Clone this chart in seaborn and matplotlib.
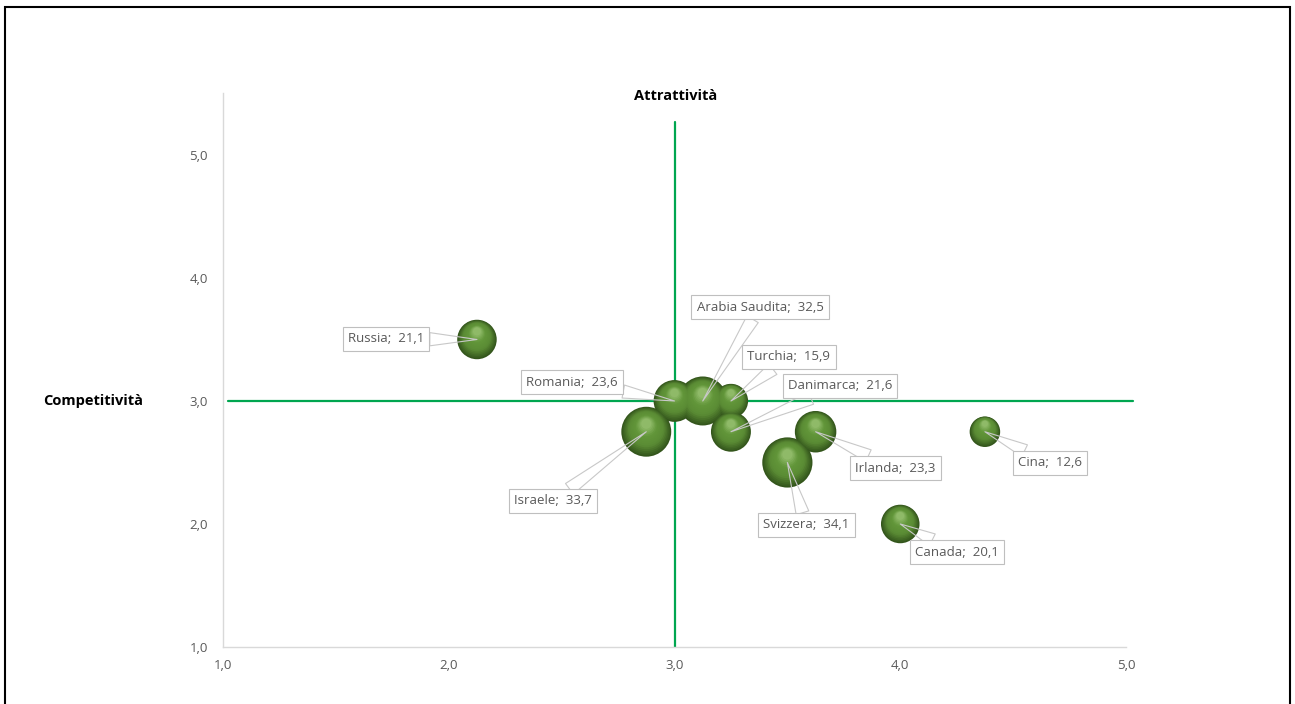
import numpy as np
import pandas as pd
import matplotlib
matplotlib.use("Agg")
import matplotlib.pyplot as plt
import matplotlib.transforms as mtransforms
from matplotlib.patches import Rectangle
from matplotlib.colors import to_rgb
from matplotlib.ticker import FuncFormatter
import seaborn as sns

# ---- data ----
countries = ["Russia", "Romania", "Arabia Saudita", "Turchia", "Danimarca",
             "Israele", "Svizzera", "Irlanda", "Cina", "Canada"]
attrattivita = [2.125, 3.0, 3.125, 3.25, 3.25, 2.875, 3.5, 3.625, 4.375, 4.0]
competitivita = [3.5, 3.0, 3.0, 3.0, 2.75, 2.75, 2.5, 2.75, 2.75, 2.0]
bubble_values = [21.1, 23.6, 32.5, 15.9, 21.6, 33.7, 34.1, 23.3, 12.6, 20.1]
tick_values = [1.0, 2.0, 3.0, 4.0, 5.0]

# label box centres (layout only)
label_pos = {
    "Russia": (1.722, 3.504), "Romania": (2.545, 3.154),
    "Arabia Saudita": (3.379, 3.764), "Turchia": (3.507, 3.358),
    "Danimarca": (3.733, 3.122), "Israele": (2.462, 2.187),
    "Svizzera": (3.583, 1.992), "Irlanda": (3.977, 2.455),
    "Cina": (4.663, 2.496), "Canada": (4.251, 1.772),
}

df = pd.DataFrame({"country": countries, "x": attrattivita,
                   "y": competitivita, "v": bubble_values})

sns.set_theme(style="white")
plt.rcParams["font.family"] = ["Open Sans", "DejaVu Sans"]

fig = plt.figure(figsize=(12.95, 7.04), dpi=100)
ax = fig.add_axes([0.1722, 0.081, 0.6973, 0.7862])

scale = 38.3  # points^2 per unit of bubble value
vmax = max(bubble_values)
dark = np.array(to_rgb("#34561C"))
mid = np.array(to_rgb("#5A8B34"))
mid2 = np.array(to_rgb("#62963A"))
light = np.array(to_rgb("#8FBA68"))

sns.scatterplot(data=df, x="x", y="y", size="v", size_norm=(0, vmax),
                sizes=(0, scale * vmax), color="#34561C", edgecolor="none",
                legend=False, ax=ax, zorder=3)

# sphere shading layers
n_layers = 16
for i in range(1, n_layers):
    f = 1 - i / n_layers * 0.85
    t = i / (n_layers - 1)
    if t < 0.35:
        col = dark + (mid - dark) * (t / 0.35)
    elif t < 0.7:
        col = mid + (mid2 - mid) * ((t - 0.35) / 0.35)
    else:
        col = mid2 + (light - mid2) * ((t - 0.7) / 0.3)
    off = mtransforms.ScaledTranslation(0, (1 - f) * 0.45 * 16 / 72, fig.dpi_scale_trans)
    ax.scatter(df["x"], df["y"], s=scale * df["v"] * f ** 2, color=col,
               edgecolor="none", zorder=3 + i * 0.01,
               transform=ax.transData + off)

ax.set_xlim(1, 5)
ax.set_ylim(1, 5.5)
ax.set_xticks(tick_values)
ax.set_yticks(tick_values)
fmt = FuncFormatter(lambda v, p: f"{v:.1f}".replace(".", ","))
ax.xaxis.set_major_formatter(fmt)
ax.yaxis.set_major_formatter(fmt)
ax.tick_params(axis="both", length=0, labelsize=9.5, colors="#595959")
ax.tick_params(axis="x", pad=9)
ax.tick_params(axis="y", pad=11)
for s in ["top", "right"]:
    ax.spines[s].set_visible(False)
for s in ["left", "bottom"]:
    ax.spines[s].set_color("#D9D9D9")
    ax.spines[s].set_linewidth(1.0)
ax.set_xlabel("")
ax.set_ylabel("")
ax.grid(False)

# quadrant lines
green = "#00A650"
ax.plot([3.0, 3.0], [1.0, 5.27], color=green, lw=1.6, zorder=2, clip_on=False)
ax.plot([1.02, 5.03], [3.0, 3.0], color=green, lw=1.6, zorder=2, clip_on=False)

# labels
for c, x, y, v in zip(countries, attrattivita, competitivita, bubble_values):
    lx, ly = label_pos[c]
    ax.annotate(f"{c};  {v:.1f}".replace(".", ","), xy=(x, y), xytext=(lx, ly),
                ha="center", va="center", fontsize=9.5, color="#595959",
                bbox=dict(boxstyle="square,pad=0.4", fc="white", ec="#BFBFBF", lw=0.8),
                arrowprops=dict(arrowstyle="wedge,tail_width=1.0,shrink_factor=0.5",
                                fc="none", ec="#C8C8C8", lw=0.8, shrinkA=0, shrinkB=0),
                zorder=10)

# axis titles
fig.text(676 / 1295, 1 - 96 / 704, "Attrattività", ha="center", va="center",
         fontsize=10.5, fontweight="bold", color="black")
fig.text(93 / 1295, 1 - 401 / 704, "Competitività", ha="center", va="center",
         fontsize=10.5, fontweight="bold", color="black")

# outer border
fig.add_artist(Rectangle((5 / 1295, -0.02), 1285 / 1295, 1.02 - 7 / 704,
                         transform=fig.transFigure, fill=False, ec="black", lw=1.5))

fig.savefig("out.png", dpi=100)
